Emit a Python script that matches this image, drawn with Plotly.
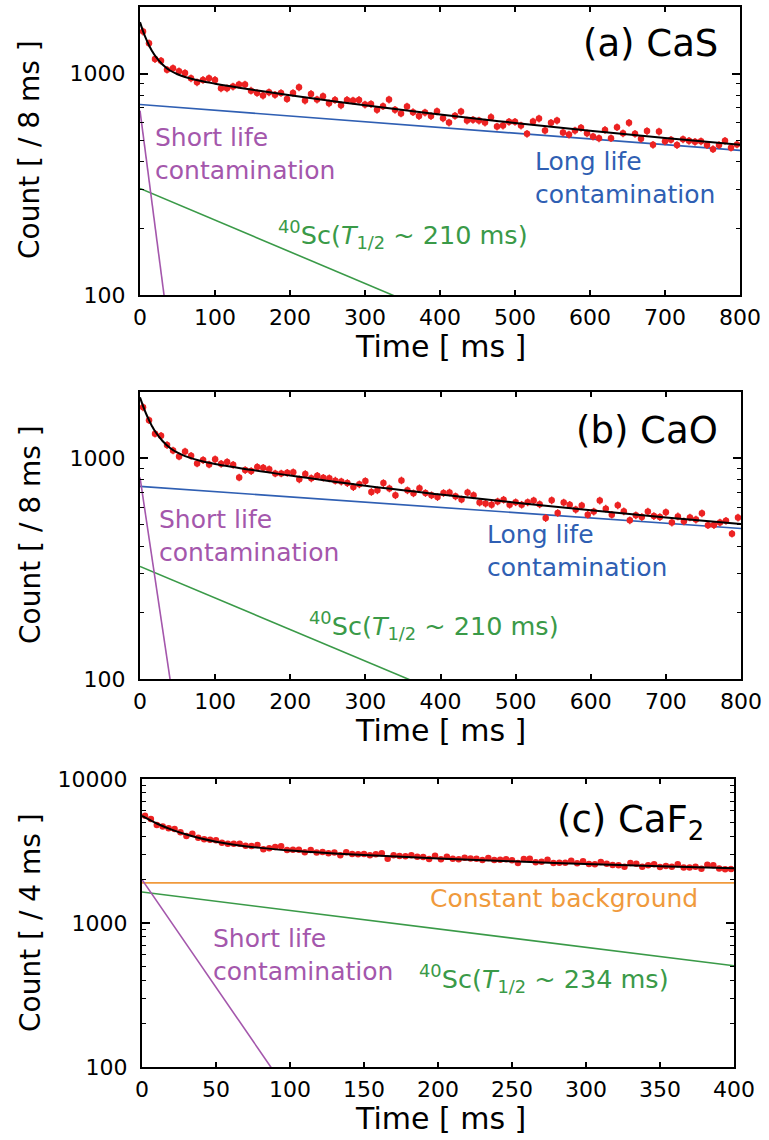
import plotly.graph_objects as go

W, H = 769, 1140

# ---------------- data ----------------
# bin centres (ms)
t_ab = [4, 12, 20, 28, 36, 44, 52, 60, 68, 76,
        84, 92, 100, 108, 116, 124, 132, 140, 148, 156,
        164, 172, 180, 188, 196, 204, 212, 220, 228, 236,
        244, 252, 260, 268, 276, 284, 292, 300, 308, 316,
        324, 332, 340, 348, 356, 364, 372, 380, 388, 396,
        404, 412, 420, 428, 436, 444, 452, 460, 468, 476,
        484, 492, 500, 508, 516, 524, 532, 540, 548, 556,
        564, 572, 580, 588, 596, 604, 612, 620, 628, 636,
        644, 652, 660, 668, 676, 684, 692, 700, 708, 716,
        724, 732, 740, 748, 756, 764, 772, 780, 788, 796]
t_c = [2, 6, 10, 14, 18, 22, 26, 30, 34, 38,
       42, 46, 50, 54, 58, 62, 66, 70, 74, 78,
       82, 86, 90, 94, 98, 102, 106, 110, 114, 118,
       122, 126, 130, 134, 138, 142, 146, 150, 154, 158,
       162, 166, 170, 174, 178, 182, 186, 190, 194, 198,
       202, 206, 210, 214, 218, 222, 226, 230, 234, 238,
       242, 246, 250, 254, 258, 262, 266, 270, 274, 278,
       282, 286, 290, 294, 298, 302, 306, 310, 314, 318,
       322, 326, 330, 334, 338, 342, 346, 350, 354, 358,
       362, 366, 370, 374, 378, 382, 386, 390, 394, 398]

counts_cas = [1550, 1370, 1164, 1144, 1042, 1057, 1024, 1007, 952, 914,
              937, 952, 937, 859, 859, 874, 892, 892, 838, 818,
              796, 824, 802, 818, 769, 818, 867, 756, 810, 764,
              790, 735, 761, 720, 761, 756, 761, 725, 729, 686,
              713, 764, 686, 661, 710, 670, 643, 667, 643, 676,
              629, 601, 645, 674, 614, 619, 614, 601, 636, 577,
              583, 606, 606, 583, 535, 608, 627, 553, 600, 614,
              542, 531, 553, 569, 538, 520, 510, 557, 511, 573,
              538, 600, 535, 508, 550, 477, 548, 495, 503, 476,
              505, 497, 492, 495, 476, 456, 476, 497, 463, 479]
counts_cao = [1706, 1490, 1294, 1268, 1149, 1087, 1021, 1076, 1028, 949,
              983, 939, 990, 946, 962, 936, 820, 885, 876, 914,
              908, 892, 855, 855, 860, 865, 804, 849, 812, 835,
              818, 812, 793, 785, 773, 741, 763, 789, 705, 717,
              773, 731, 681, 795, 717, 695, 733, 697, 681, 668,
              697, 701, 673, 652, 701, 681, 631, 624, 617, 638,
              650, 617, 633, 617, 633, 644, 619, 537, 646, 566,
              631, 617, 586, 611, 556, 574, 644, 592, 556, 613,
              576, 524, 552, 542, 574, 548, 542, 570, 512, 546,
              519, 540, 528, 564, 498, 499, 512, 521, 456, 539]
counts_caf2 = [5560, 5270, 4795, 4670, 4546, 4499, 4265, 4020, 4170, 3911,
               3811, 3787, 3749, 3610, 3555, 3555, 3555, 3445, 3430, 3483,
               3252, 3303, 3374, 3410, 3215, 3230, 3230, 3099, 3215, 3085,
               3112, 3048, 3085, 2951, 3099, 3015, 3005, 3015, 2951, 3005,
               3048, 2797, 2951, 2918, 2905, 2951, 2885, 2870, 2782, 2931,
               2767, 2885, 2797, 2767, 2840, 2810, 2797, 2738, 2825, 2738,
               2752, 2767, 2723, 2610, 2782, 2797, 2638, 2667, 2752, 2610,
               2624, 2624, 2710, 2596, 2680, 2570, 2555, 2652, 2583, 2530,
               2515, 2460, 2610, 2583, 2460, 2515, 2555, 2447, 2488, 2460,
               2555, 2433, 2433, 2460, 2382, 2540, 2515, 2395, 2360, 2370]

# total fit curves
fit_t_ab = [0, 4, 8, 12, 16, 20, 30, 40, 50, 60, 80, 100, 150, 200, 300, 400, 500, 600, 700, 800]
fit_cas = [1708, 1557, 1438, 1343, 1266, 1205, 1099, 1033, 994, 965, 928, 901, 846, 799, 719, 654, 599, 552, 512, 477]
fit_cao = [1891, 1731, 1598, 1491, 1400, 1327, 1199, 1115, 1061, 1024, 976, 944, 885, 836, 751, 686, 630, 582, 540, 504]
fit_t_c = [0, 10, 20, 30, 40, 50, 60, 80, 100, 125, 150, 200, 250, 300, 350, 400]
fit_caf2 = [5541, 4909, 4450, 4112, 3862, 3672, 3528, 3324, 3186, 3062, 2964, 2808, 2680, 2571, 2478, 2397]

# fit components (straight lines on log scale: end points)
long_t_ab = [0, 800]
long_cas = [725, 450]
long_cao = [747, 481]
sc_t_ab = [0, 800]
sc_cas = [303, 21.7]
sc_cao = [324, 23.2]
short_t_cas = [0, 40]
short_cas = [680, 62]
short_t_cao = [0, 50]
short_cao = [820, 59]
const_t_c = [0, 400]
const_caf2 = [1900, 1900]
sc_t_c = [0, 400]
sc_caf2 = [1641, 505]
short_t_c = [0, 100]
short_caf2 = [2000, 64]

# ---------------- style ----------------
FONT = "DejaVu Sans"
RED = "#ec2222"
BLUE = "#2f5fb3"
PURPLE = "#a457ac"
GREEN = "#3a9a48"
ORANGE = "#f09a3c"

fig = go.Figure()


def data_trace(x, y, ax, err):
    fig.add_trace(go.Scatter(
        x=x, y=y, mode="markers", xaxis=ax[0], yaxis=ax[1],
        marker=dict(color=RED, size=6.5, line=dict(width=0)),
        error_y=dict(type="percent", value=err, color=RED, thickness=1.3, width=0),
        showlegend=False, hoverinfo="x+y"))


def line_trace(x, y, ax, color, width=1.6, spline=False):
    fig.add_trace(go.Scatter(
        x=x, y=y, mode="lines", xaxis=ax[0], yaxis=ax[1],
        line=dict(color=color, width=width, shape="spline" if spline else "linear"),
        showlegend=False, hoverinfo="skip"))


A = ("x", "y")
B = ("x2", "y2")
C = ("x3", "y3")

# panel (a)
line_trace(long_t_ab, long_cas, A, BLUE)
line_trace(sc_t_ab, sc_cas, A, GREEN)
line_trace(short_t_cas, short_cas, A, PURPLE)
data_trace(t_ab, counts_cas, A, 4)
line_trace(fit_t_ab, fit_cas, A, "black", 2, True)

# panel (b)
line_trace(long_t_ab, long_cao, B, BLUE)
line_trace(sc_t_ab, sc_cao, B, GREEN)
line_trace(short_t_cao, short_cao, B, PURPLE)
data_trace(t_ab, counts_cao, B, 4)
line_trace(fit_t_ab, fit_cao, B, "black", 2, True)

# panel (c)
line_trace(const_t_c, const_caf2, C, ORANGE)
line_trace(sc_t_c, sc_caf2, C, GREEN)
line_trace(short_t_c, short_caf2, C, PURPLE)
data_trace(t_c, counts_caf2, C, 2)
line_trace(fit_t_c, fit_caf2, C, "black", 2, True)


def px(x):
    return x / W


def py(y):
    return 1 - y / H


def xaxis(dom, rng, dtick, anchor):
    return dict(domain=[px(dom[0]), px(dom[1])], range=rng, dtick=dtick,
                anchor=anchor, ticks="inside", ticklen=5, tickwidth=1.5,
                tickcolor="black", showline=True, linecolor="black",
                linewidth=2, mirror="ticks", showgrid=False, zeroline=False,
                automargin=False,
                tickfont=dict(family=FONT, size=22, color="black"),
                ticklabelstandoff=2)


def yaxis(dom, rng, anchor):
    return dict(domain=[py(dom[1]), py(dom[0])], type="log", range=rng, dtick=1,
                tickformat="d", anchor=anchor, ticks="inside", ticklen=8,
                tickwidth=1.5, tickcolor="black", showline=True,
                linecolor="black", linewidth=2, mirror="ticks",
                showgrid=False, zeroline=False, automargin=False,
                minor=dict(ticks="inside", ticklen=4, dtick="D1",
                           tickcolor="black", tickwidth=1.2, showgrid=False),
                tickfont=dict(family=FONT, size=22, color="black"),
                ticklabelstandoff=8)


fig.update_layout(
    width=W, height=H, margin=dict(l=0, r=0, t=0, b=0, autoexpand=False),
    paper_bgcolor="white", plot_bgcolor="white",
    font=dict(family=FONT, color="black"),
    xaxis=xaxis((140, 740), [0, 800], 100, "y"),
    yaxis=yaxis((7, 295), [2, 3.30103], "x"),
    xaxis2=xaxis((140, 741), [0, 800], 100, "y2"),
    yaxis2=yaxis((392, 679), [2, 3.30103], "x2"),
    xaxis3=xaxis((142, 734), [0, 400], 50, "y3"),
    yaxis3=yaxis((779, 1067), [2, 4], "x3"),
)

ann = []


def text(x, y, s, size, color="black", xanchor="left", angle=0, align="left"):
    ann.append(dict(x=px(x), y=py(y), xref="paper", yref="paper", text=s,
                    showarrow=False, xanchor=xanchor, yanchor="middle",
                    textangle=angle, align=align,
                    font=dict(family=FONT, size=size, color=color)))


sc210 = "<sup>40</sup>Sc(<i>T</i><sub>1/2</sub> ~ 210 ms)"
sc234 = "<sup>40</sup>Sc(<i>T</i><sub>1/2</sub> ~ 234 ms)"

# panel (a)
text(720, 43, "(a) CaS", 37, xanchor="right")
text(153, 154, "Short life<br>contamination", 25, PURPLE)
text(533, 178, "Long life<br>contamination", 25, BLUE)
text(276, 235, sc210, 25.5, GREEN)
text(440, 347, "Time [ ms ]", 30, xanchor="center")
text(30, 150, "Count [ / 8 ms ]", 28, xanchor="center", angle=-90)

# panel (b)
text(720, 430, "(b) CaO", 37, xanchor="right")
text(157, 536, "Short life<br>contamination", 25, PURPLE)
text(485, 551, "Long life<br>contamination", 25, BLUE)
text(307, 625, sc210, 25.5, GREEN)
text(440, 730, "Time [ ms ]", 30, xanchor="center")
text(30, 535, "Count [ / 8 ms ]", 28, xanchor="center", angle=-90)

# panel (c)
text(706, 822, "(c) CaF<sub>2</sub>", 37, xanchor="right")
text(428, 898, "Constant background", 25, ORANGE)
text(211, 955, "Short life<br>contamination", 25, PURPLE)
text(417, 978, sc234, 25.5, GREEN)
text(440, 1118, "Time [ ms ]", 30, xanchor="center")
text(30, 923, "Count [ / 4 ms ]", 28, xanchor="center", angle=-90)

fig.update_layout(annotations=ann)

fig.write_html("out.html")
